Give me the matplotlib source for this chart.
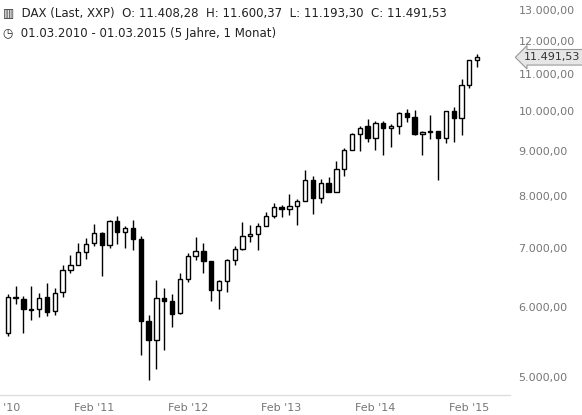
import matplotlib
matplotlib.use("Agg")
import matplotlib.pyplot as plt
from matplotlib.ticker import NullLocator

months = [f"{y}-{m:02d}" for y in range(2010, 2016) for m in range(1, 13)][2:63]
opens = [5600,6160,6130,5960,5970,6150,5930,6230,6600,6700,6920,7080,
         7273,7041,7514,7294,7376,7159,5785,5500,6141,6089,5900,6460,
         6856,6947,6761,6264,6416,6772,6970,7216,7260,7405,7612,7776,
         7741,7795,7914,8349,7959,8276,8103,8594,9033,9406,9600,9306,
         9692,9556,9603,9943,9833,9407,9470,9474,9326,9980,9806,10694,11408]
highs = [6200,6340,6170,6340,6220,6390,6300,6690,6870,7080,7180,7440,
         7300,7530,7600,7400,7520,7220,5870,6430,6300,6200,6550,6900,
         7190,7080,6770,6440,6800,7040,7480,7420,7460,7680,7870,7830,
         8060,7950,8560,8440,8380,8420,8770,9070,9430,9600,9790,9740,
         9740,9650,9960,10050,10030,9480,9890,9470,10000,10090,10850,11400,11600]
lows = [5560,6040,5600,5800,5840,5860,5870,6150,6560,6730,6800,7030,
        6510,7000,7060,6990,6960,5300,4965,5100,5370,5700,5890,6400,
        6780,6560,6100,5970,6230,6700,6950,7100,6950,7400,7560,7580,
        7630,7420,7900,7650,7860,8100,8140,8440,9050,9000,9220,9020,
        8900,9100,9400,9700,9380,8900,9300,8355,9200,9220,9380,10600,11193]
closes = [6153,6136,5965,5966,6148,5925,6229,6601,6688,6914,7077,7273,
          7041,7514,7294,7376,7159,5785,5502,6141,6089,5898,6458,6856,
          6947,6761,6264,6416,6772,6970,7216,7260,7405,7612,7776,7741,
          7795,7914,8349,7959,8276,8103,8594,9033,9406,9552,9306,9692,
          9556,9603,9943,9833,9407,9470,9474,9326,9980,9806,10694,11402,11492]
ytick_vals = [5000,6000,7000,8000,9000,10000,11000,12000,13000]
ytick_labels = ["5.000,00","6.000,00","7.000,00","8.000,00","9.000,00",
                "10.000,00","11.000,00","12.000,00","13.000,00"]
xtick_idx = [-1,11,23,35,47,59]
xtick_labels = ["Feb '10","Feb '11","Feb '12","Feb '13","Feb '14","Feb '15"]

fig = plt.figure(figsize=(5.82,4.15), dpi=100)
ax = fig.add_axes([0, 20/415, 510/582, 395/415])
w = 0.55
for i,(o,h,l,c) in enumerate(zip(opens,highs,lows,closes)):
    ax.vlines(i, l, min(o,c), color="black", lw=1.0, zorder=1)
    ax.vlines(i, max(o,c), h, color="black", lw=1.0, zorder=1)
    face = "white" if c >= o else "black"
    ax.bar(i, max(abs(c-o), 8), bottom=min(o,c), width=w, facecolor=face,
           edgecolor="black", lw=1.0, zorder=2)
ax.set_yscale("log")
ax.set_ylim(4771, 13340)
ax.set_xlim(0, 64.2)
for s in ax.spines.values():
    s.set_visible(False)
ax.set_yticks(ytick_vals)
ax.set_yticklabels(ytick_labels)
ax.yaxis.set_minor_locator(NullLocator())
ax.yaxis.tick_right()
ax.tick_params(axis="y", length=0, pad=6, labelsize=8, colors="#777777")
ax.set_xticks(xtick_idx)
ax.set_xticklabels(xtick_labels)
ax.tick_params(axis="x", length=0, pad=6, labelsize=8, colors="#777777")
ax.axhline(4771, color="#dddddd", lw=1, clip_on=False)

last = closes[-1]
ax.annotate("11.491,53", xy=(64.2, last), xycoords=("data","data"),
            xytext=(10, 0), textcoords="offset points", va="center", ha="left",
            fontsize=8, color="#333333", annotation_clip=False,
            bbox=dict(boxstyle="larrow,pad=0.25", fc="#e6e6e6", ec="#999999", lw=0.8))

fig.text(0.006, 0.985, "\u25a5  DAX (Last, XXP)  O: 11.408,28  H: 11.600,37  L: 11.193,30  C: 11.491,53",
         fontsize=8.5, va="top", ha="left", color="#222222")
fig.text(0.006, 0.935, "\u25f7  01.03.2010 - 01.03.2015 (5 Jahre, 1 Monat)",
         fontsize=8.5, va="top", ha="left", color="#222222")
fig.savefig("out.png", dpi=100)
